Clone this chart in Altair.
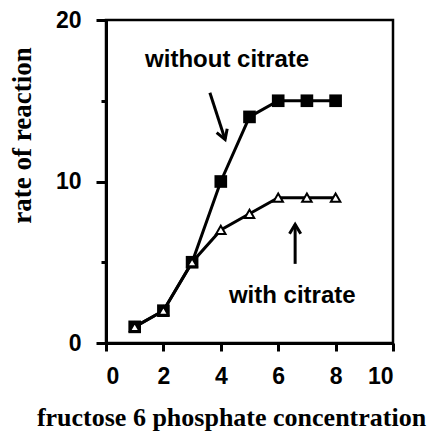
import altair as alt
import pandas as pd

# ---- data ----
conc = [1, 2, 3, 4, 5, 6, 7, 8]
rate_without = [1, 2, 5, 10, 14, 15, 15, 15]
rate_with = [1, 2, 5, 7, 8, 9, 9, 9]

x_ticks = [0, 1, 2, 3, 4, 5, 6, 7, 8, 9, 10]
y_ticks = [0, 5, 10, 15, 20]

labels = ["without citrate", "with citrate"]
label_x = [4.22, 6.49]
label_y = [17.5, 2.94]

arrow_id = ["a", "a", "b", "b"]
arrow_x = [3.62, 4.15, 6.59, 6.59]
arrow_y = [15.5, 12.6, 4.9, 7.34]
head_x = [4.15, 6.59]
head_y = [12.6, 7.34]
head_angle = [340, 180]

# ---- tables ----
series = pd.DataFrame({
    "conc": conc * 2,
    "rate": rate_without + rate_with,
    "series": ["without"] * len(conc) + ["with"] * len(conc),
})
lab_df = pd.DataFrame({"text": labels, "x": label_x, "y": label_y})
arr_df = pd.DataFrame({"id": arrow_id, "x": arrow_x, "y": arrow_y})
head_df = pd.DataFrame({"x": head_x, "y": head_y, "angle": head_angle})

xscale = alt.Scale(domain=[0, 10], nice=False, zero=False)
yscale = alt.Scale(domain=[0, 20], nice=False, zero=False)

x_axis = alt.Axis(
    orient="bottom", values=x_ticks,
    tickSize={"condition": {"test": "datum.value % 2 == 1", "value": 5}, "value": 8},
    labelExpr="datum.value % 2 == 0 ? datum.label : ''",
    labelPadding=14,
    title="fructose 6 phosphate concentration",
    titleFont="Liberation Serif", titleFontSize=26, titleFontWeight="bold",
    titleX=125, titleY=82, titleAlign="center", titleBaseline="alphabetic",
    labelFont="Liberation Sans", labelFontSize=23, labelFontWeight="bold",
)
y_axis = alt.Axis(
    orient="left", values=y_ticks,
    tickSize={"condition": {"test": "datum.value % 10 != 0", "value": 5}, "value": 10},
    labelExpr="datum.value % 10 == 0 ? datum.label : ''",
    labelPadding=15,
    title="rate of reaction",
    titleFont="Liberation Serif", titleFontSize=27, titleFontWeight="bold",
    titleX=-76, titleY=115, titleAngle=270, titleAlign="center",
    titleBaseline="alphabetic",
    labelFont="Liberation Sans", labelFontSize=23, labelFontWeight="bold",
)

base = alt.Chart(series)

lines = base.mark_line(color="black", strokeWidth=3).encode(
    x=alt.X("conc:Q", scale=xscale, axis=x_axis),
    y=alt.Y("rate:Q", scale=yscale, axis=y_axis),
    detail="series:N",
)

squares = base.transform_filter(alt.datum.series == "without").mark_point(
    shape="square", filled=True, color="black", size=160, opacity=1
).encode(x="conc:Q", y="rate:Q")

triangles = base.transform_filter(alt.datum.series == "with").mark_point(
    shape="triangle-up", filled=True, fill="white", stroke="black",
    strokeWidth=2, size=90, opacity=1
).encode(x="conc:Q", y="rate:Q")

texts = alt.Chart(lab_df).mark_text(
    font="Liberation Sans", fontSize=24, fontWeight="bold", color="black",
    baseline="middle", align="center"
).encode(x="x:Q", y="y:Q", text="text:N")

arrow_lines = alt.Chart(arr_df).mark_line(color="black", strokeWidth=3).encode(
    x="x:Q", y="y:Q", detail="id:N"
)

arrow_heads = alt.Chart(head_df).mark_point(
    shape="M -0.6 -1 L 0 0 L 0.6 -1", filled=False, stroke="black",
    strokeWidth=3, size=350, opacity=1
).encode(x="x:Q", y="y:Q", angle=alt.Angle("angle:Q", scale=None))

chart = alt.layer(
    lines, squares, triangles, texts, arrow_lines, arrow_heads
).properties(
    width=287, height=323,
    autosize=alt.AutoSizeParams(type="none"),
    padding={"left": 98, "top": 12, "right": 34, "bottom": 90},
    background="white",
).configure_view(
    stroke="black", strokeWidth=2.5
).configure_axis(
    domainColor="black", domainWidth=3, tickColor="black", tickWidth=3,
    grid=False, labelColor="black", titleColor="black",
)

chart.save("out.html", embed_options={"renderer": "svg", "actions": False})
